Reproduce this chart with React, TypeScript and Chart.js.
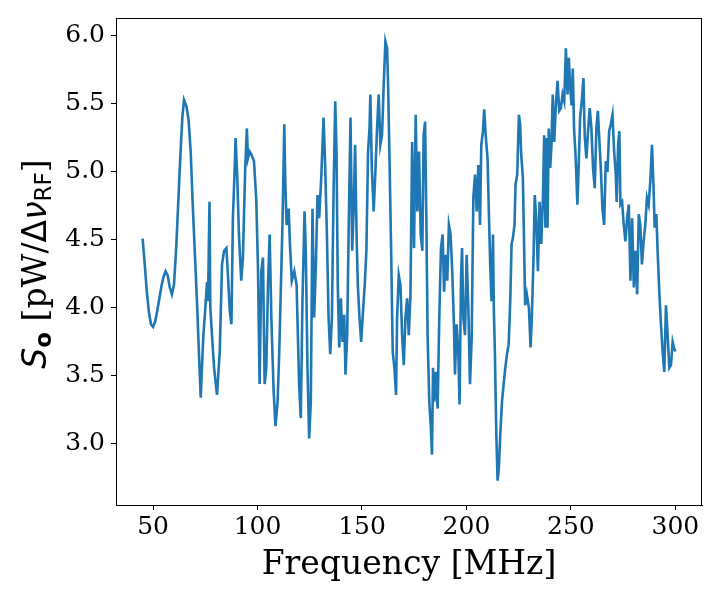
import { useEffect, useRef } from "react";
import { Chart, registerables } from "chart.js";

Chart.register(...registerables);

// Frequency axis, MHz
const freqMHz = [
  45.0, 46.0, 47.0, 48.0, 49.0, 50.0, 51.0, 52.0, 53.0, 54.0, 55.0, 56.0, 57.0, 58.0, 59.0, 60.0,
  61.0, 62.0, 63.0, 64.0, 64.8, 66.0, 67.0, 68.0, 69.0, 70.0, 71.0, 72.0, 72.8, 73.5, 74.0, 75.0,
  75.8, 76.3, 77.0, 77.4, 78.2, 79.2, 80.6, 81.9, 83.0, 84.0, 85.1, 85.9, 86.7, 87.5, 88.2, 89.0,
  89.5, 90.3, 91.1, 92.2, 93.0, 94.1, 94.9, 95.4, 96.2, 97.0, 98.3, 99.4, 100.2, 101.0, 101.8, 102.6,
  103.4, 104.2, 105.0, 105.8, 106.6, 107.7, 108.6, 109.6, 110.4, 111.2, 112.0, 112.8, 113.3, 113.9, 114.9, 115.5,
  116.4, 117.6, 118.7, 119.5, 119.9, 120.7, 121.5, 122.5, 123.1, 123.9, 124.7, 125.5, 126.3, 127.1, 127.9, 128.7,
  129.5, 130.5, 131.6, 132.4, 133.2, 134.0, 134.8, 135.6, 136.4, 137.2, 137.8, 138.4, 139.1, 139.9, 140.7, 141.5,
  142.1, 142.9, 143.7, 144.5, 145.3, 146.1, 146.7, 147.4, 148.0, 148.8, 149.6, 150.5, 151.3, 152.1, 152.9, 153.6,
  154.0, 154.7, 155.6, 156.4, 157.2, 158.0, 158.8, 159.6, 160.4, 161.2, 162.0, 162.5, 163.1, 163.9, 164.7, 165.5,
  166.3, 166.8, 167.6, 168.4, 169.2, 170.0, 170.8, 171.6, 172.4, 173.2, 174.0, 174.3, 174.9, 175.7, 176.5, 177.3,
  178.1, 178.9, 179.5, 180.2, 180.8, 181.4, 182.2, 182.9, 183.5, 184.0, 184.6, 185.4, 186.2, 187.0, 187.8, 188.6,
  189.3, 190.0, 190.8, 191.6, 192.4, 193.2, 194.0, 194.5, 195.3, 196.1, 196.7, 197.4, 197.9, 198.5, 199.3, 200.1,
  200.9, 201.7, 202.5, 203.3, 204.1, 204.9, 205.7, 206.5, 207.1, 207.9, 208.5, 209.2, 210.1, 210.8, 211.4, 212.0,
  212.7, 213.1, 213.6, 214.3, 214.9, 215.5, 216.2, 217.0, 217.8, 218.6, 219.4, 220.2, 221.0, 221.6, 222.2, 223.0,
  223.5, 224.3, 225.1, 225.7, 226.2, 227.0, 227.5, 228.1, 228.9, 229.9, 230.7, 231.3, 232.1, 232.7, 233.4, 234.2,
  235.0, 235.8, 236.6, 237.2, 237.8, 238.5, 238.8, 239.4, 240.1, 240.7, 241.3, 242.0, 242.8, 243.6, 244.4, 245.2,
  246.0, 246.8, 247.6, 248.4, 249.0, 249.6, 250.3, 250.9, 251.5, 252.3, 253.1, 253.8, 254.4, 255.2, 256.0, 256.6,
  257.4, 258.2, 259.0, 259.8, 260.6, 261.4, 262.2, 262.9, 263.5, 264.3, 265.1, 265.9, 266.7, 267.5, 268.3, 269.1,
  269.9, 270.7, 271.5, 271.9, 272.6, 273.2, 273.7, 274.5, 275.3, 276.1, 276.9, 277.7, 278.5, 279.3, 280.1, 280.9,
  281.7, 282.5, 283.2, 284.0, 284.8, 285.6, 286.4, 287.2, 288.0, 288.8, 289.5, 290.1, 290.9, 291.5, 292.3, 293.1,
  293.9, 294.7, 295.5, 296.3, 297.1, 297.9, 298.7, 299.3, 300.0,
];

// S_o in pW per RF bandwidth
const powerSo = [
  4.51, 4.32, 4.12, 3.97, 3.88, 3.86, 3.90, 3.98, 4.07, 4.16, 4.23, 4.27, 4.24, 4.15, 4.10, 4.17,
  4.42, 4.76, 5.10, 5.40, 5.53, 5.48, 5.38, 5.15, 4.75, 4.40, 4.05, 3.65, 3.34, 3.60, 3.78, 4.00,
  4.19, 4.05, 4.78, 4.00, 3.80, 3.56, 3.36, 3.68, 4.32, 4.42, 4.44, 4.22, 3.98, 3.88, 4.66, 5.00,
  5.25, 4.96, 4.54, 4.20, 4.37, 5.03, 5.32, 5.10, 5.15, 5.13, 5.08, 4.79, 4.30, 3.44, 4.27, 4.37,
  3.44, 3.56, 4.17, 4.54, 3.93, 3.39, 3.13, 3.31, 3.68, 4.17, 4.66, 5.35, 4.91, 4.61, 4.73, 4.47,
  4.20, 4.27, 4.17, 3.68, 3.44, 3.19, 4.05, 4.71, 4.42, 3.56, 3.04, 3.31, 4.73, 3.93, 4.30, 4.83,
  4.66, 4.96, 5.40, 5.03, 4.54, 3.93, 3.66, 3.93, 4.86, 5.52, 5.15, 4.17, 3.71, 4.07, 3.75, 3.95,
  3.51, 3.80, 4.66, 5.40, 4.42, 4.78, 5.20, 4.54, 4.17, 3.93, 3.75, 3.98, 4.17, 4.42, 5.15, 5.32,
  5.57, 5.03, 4.71, 5.00, 5.32, 5.57, 5.20, 5.27, 5.64, 5.96, 5.91, 5.64, 5.15, 4.47, 3.68, 3.56,
  3.36, 3.93, 4.24, 4.17, 3.80, 3.58, 3.93, 4.07, 3.80, 4.10, 5.22, 5.22, 4.44, 5.42, 4.71, 5.15,
  4.54, 4.42, 5.27, 5.37, 4.66, 3.80, 3.31, 3.14, 2.92, 3.56, 3.31, 3.53, 3.26, 3.93, 4.44, 4.54,
  4.12, 4.39, 4.20, 4.61, 4.54, 4.27, 3.88, 3.51, 3.88, 3.68, 3.29, 4.22, 4.44, 3.93, 3.80, 4.39,
  4.00, 3.44, 3.78, 4.81, 4.98, 4.71, 5.05, 4.61, 5.20, 5.30, 5.46, 5.27, 5.10, 4.66, 4.30, 4.05,
  4.54, 4.00, 3.68, 3.07, 2.73, 2.82, 3.07, 3.31, 3.44, 3.56, 3.66, 3.73, 4.07, 4.47, 4.51, 4.61,
  4.91, 4.98, 5.42, 5.35, 5.13, 4.96, 4.54, 4.02, 4.10, 4.00, 3.71, 3.93, 4.37, 4.83, 4.66, 4.27,
  4.78, 4.47, 4.81, 5.27, 4.59, 5.25, 4.59, 5.32, 5.03, 5.20, 5.57, 5.22, 5.49, 5.67, 5.45, 5.47,
  5.57, 5.52, 5.91, 5.57, 5.84, 5.64, 5.49, 5.76, 5.32, 5.10, 4.76, 5.08, 5.40, 5.52, 5.69, 5.27,
  5.10, 5.30, 5.47, 5.32, 5.03, 4.88, 5.32, 5.45, 5.27, 5.03, 4.73, 4.61, 5.08, 5.00, 5.30, 5.35,
  5.42, 5.15, 4.98, 4.78, 5.20, 5.30, 4.76, 4.78, 4.61, 4.49, 4.66, 4.76, 4.20, 4.66, 4.15, 4.42,
  4.10, 4.69, 4.61, 4.32, 4.49, 4.61, 4.81, 4.76, 4.93, 5.20, 4.91, 4.59, 4.69, 4.42, 4.12, 3.88,
  3.68, 3.53, 4.02, 3.80, 3.56, 3.58, 3.75, 3.71, 3.68,
];

const xTicks = [50, 100, 150, 200, 250, 300];
const yTicks = [3.0, 3.5, 4.0, 4.5, 5.0, 5.5, 6.0];

const SERIF = '"DejaVu Serif", serif';
const SANS = '"DejaVu Sans", sans-serif';

// full box around the plot area (matplotlib spines)
const frameBox = {
  id: "frameBox",
  afterDraw(chart: Chart) {
    const { ctx, chartArea } = chart;
    ctx.save();
    ctx.strokeStyle = "#000";
    ctx.lineWidth = 1;
    ctx.strokeRect(chartArea.left + 0.5, chartArea.top + 0.5, chartArea.right - chartArea.left - 1, chartArea.bottom - chartArea.top);
    ctx.restore();
  },
};

// axis titles, y one has sub/superscript pieces
const axisTitles = {
  id: "axisTitles",
  afterDraw(chart: Chart) {
    const { ctx, chartArea } = chart;
    ctx.save();
    ctx.fillStyle = "#000";
    ctx.font = `33px ${SERIF}`;
    ctx.textAlign = "center";
    ctx.textBaseline = "alphabetic";
    ctx.fillText("Frequency [MHz]", (chartArea.left + chartArea.right) / 2, 574);

    const parts = [
      { t: "S", f: `italic 33px ${SANS}`, dy: 0 },
      { t: "o", f: `bold 23px ${SANS}`, dy: 5 },
      { t: " [pW/", f: `33px ${SERIF}`, dy: 0 },
      { t: "Δ", f: `33px ${SANS}`, dy: 0 },
      { t: "ν", f: `italic 33px ${SANS}`, dy: 0 },
      { t: "RF", f: `23px ${SANS}`, dy: 5 },
      { t: "]", f: `33px ${SERIF}`, dy: 0 },
    ];
    ctx.textAlign = "left";
    let total = 0;
    const widths = parts.map((p) => {
      ctx.font = p.f;
      const w = ctx.measureText(p.t).width;
      total += w;
      return w;
    });
    ctx.translate(46, 264);
    ctx.rotate(-Math.PI / 2);
    let x = -total / 2;
    parts.forEach((p, i) => {
      ctx.font = p.f;
      ctx.fillText(p.t, x, p.dy);
      x += widths[i];
    });
    ctx.restore();
  },
};

export default function App() {
  const canvasRef = useRef<HTMLCanvasElement | null>(null);

  useEffect(() => {
    if (!canvasRef.current) return;
    const points = freqMHz.map((f, i) => ({ x: f, y: powerSo[i] }));

    const tickFont = { family: SERIF, size: 25 };
    const chart = new Chart(canvasRef.current, {
      type: "line",
      data: {
        datasets: [
          {
            data: points,
            borderColor: "#1f77b4",
            borderWidth: 2.6,
            pointRadius: 0,
            tension: 0,
            fill: false,
          },
        ],
      },
      options: {
        responsive: false,
        animation: false,
        layout: { padding: { top: 18, right: 18, left: 0, bottom: 0 } },
        plugins: { legend: { display: false }, tooltip: { enabled: false } },
        scales: {
          x: {
            type: "linear",
            min: 32.25,
            max: 312.75,
            afterBuildTicks: (s: any) => {
              s.ticks = xTicks.map((v) => ({ value: v }));
            },
            afterFit: (s: any) => {
              s.height = 95;
              s.paddingLeft = 0;
              s.paddingRight = 0;
            },
            grid: { display: true, drawOnChartArea: false, tickLength: 5, tickColor: "#000" },
            border: { display: true, color: "#000", width: 1 },
            ticks: { color: "#000", font: tickFont, padding: 2, maxRotation: 0, callback: (v: any) => String(v) },
          },
          y: {
            type: "linear",
            min: 2.551,
            max: 6.132,
            afterBuildTicks: (s: any) => {
              s.ticks = yTicks.map((v) => ({ value: v }));
            },
            afterFit: (s: any) => {
              s.width = 116;
              s.paddingTop = 0;
              s.paddingBottom = 0;
            },
            grid: { display: true, drawOnChartArea: false, tickLength: 5, tickColor: "#000" },
            border: { display: true, color: "#000", width: 1 },
            ticks: { color: "#000", font: tickFont, padding: 6, callback: (v: any) => Number(v).toFixed(1) },
          },
        },
      },
      plugins: [frameBox, axisTitles],
    });

    return () => chart.destroy();
  }, []);

  return (
    <div style={{ position: "absolute", left: 0, top: 0, width: 720, height: 600, background: "#fff" }}>
      <canvas ref={canvasRef} width={720} height={600} style={{ width: 720, height: 600 }} />
    </div>
  );
}
